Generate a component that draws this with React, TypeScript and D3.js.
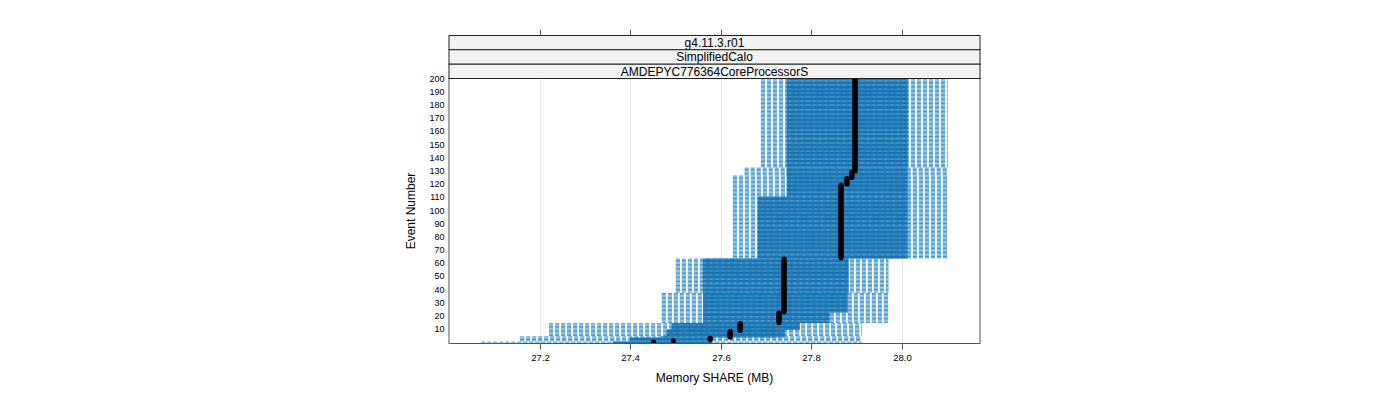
import React from "react";
import * as d3 from "d3";

// ---- data (event blocks with equal summary values) ----
const blockStart = [0, 1, 4, 5, 10, 15, 23, 38, 64, 111, 127, 133];
const blockEnd = [0, 3, 4, 9, 14, 22, 37, 63, 110, 126, 132, 200];
const minMem = [27.071, 27.157, 27.157, 27.221, 27.221, 27.47, 27.47, 27.501, 27.627, 27.627, 27.653, 27.689];
const q1Mem = [27.362, 27.4, 27.47, 27.481, 27.492, 27.561, 27.561, 27.561, 27.682, 27.746, 27.746, 27.746];
const q3Mem = [27.581, 27.581, 27.742, 27.742, 27.775, 27.841, 27.881, 27.883, 28.013, 28.013, 28.013, 28.013];
const maxMem = [27.912, 27.912, 27.912, 27.912, 27.912, 27.971, 27.971, 27.971, 28.102, 28.102, 28.102, 28.102];

const medStart = [0, 1, 2, 4, 9, 15, 23, 64, 120, 125, 130];
const medEnd = [0, 1, 3, 8, 14, 22, 63, 119, 124, 129, 200];
const medMem = [27.452, 27.496, 27.577, 27.621, 27.643, 27.729, 27.74, 27.866, 27.879, 27.89, 27.897];

const xTicks = [27.2, 27.4, 27.6, 27.8, 28.0];
const yTicks = [10, 20, 30, 40, 50, 60, 70, 80, 90, 100, 110, 120, 130, 140, 150, 160, 170, 180, 190, 200];
const stripLabels = ["g4.11.3.r01", "SimplifiedCalo", "AMDEPYC776364CoreProcessorS"];
const xTitle = "Memory SHARE (MB)";
const yTitle = "Event Number";

// ---- layout ----
const panelL = 449;
const panelR = 980;
const panelT = 78.5;
const panelB = 343.5;
const stripTops = [35.5, 49.8, 64.2];
const FONT = "'Liberation Sans', Arial, sans-serif";

const LIGHT = "#4196cf";
const DARK = "#1874b2";

export default function App() {
  const x = d3.scaleLinear().domain([27.0, 28.173]).range([panelL, panelR]);
  const y = d3.scaleLinear().domain([-1, 200]).range([panelB, panelT]);

  type Row = { e: number; lo: number; q1: number; q3: number; hi: number };
  const rows: Row[] = [];
  blockStart.forEach((s, i) => {
    for (let e = s; e <= blockEnd[i]; e++) {
      rows.push({ e, lo: minMem[i], q1: q1Mem[i], q3: q3Mem[i], hi: maxMem[i] });
    }
  });
  const meds: { e: number; m: number }[] = [];
  medStart.forEach((s, i) => {
    for (let e = s; e <= medEnd[i]; e++) meds.push({ e, m: medMem[i] });
  });

  const stripBottoms = [stripTops[1], stripTops[2], panelT];

  return (
    <svg
      width={1400}
      height={400}
      style={{ position: "absolute", left: 0, top: 0, background: "#fff" }}
      fontFamily={FONT}
    >
      <defs>
        <clipPath id="panelClip">
          <rect x={panelL} y={panelT} width={panelR - panelL} height={panelB - panelT} />
        </clipPath>
      </defs>
      <rect x={0} y={0} width={1400} height={400} fill="#fff" />

      {/* grid */}
      {xTicks.map((t) => (
        <line key={"g" + t} x1={Math.round(x(t)) + 0.5} x2={Math.round(x(t)) + 0.5} y1={panelT} y2={panelB} stroke="#e8e8e8" strokeWidth={1} />
      ))}

      <g clipPath="url(#panelClip)">
        {rows.map((r) => (
          <line
            key={"l" + r.e}
            x1={x(r.lo)}
            x2={x(r.hi)}
            y1={y(r.e)}
            y2={y(r.e)}
            stroke={LIGHT}
            strokeWidth={1}
            strokeDasharray="4.2 1.8"
          />
        ))}
        {rows.map((r) => (
          <line key={"d" + r.e} x1={x(r.q1)} x2={x(r.q3)} y1={y(r.e)} y2={y(r.e)} stroke={DARK} strokeWidth={1.4} />
        ))}
        {meds.map((p) => (
          <circle key={"m" + p.e} cx={x(p.m)} cy={y(p.e)} r={2.6} fill="#000" />
        ))}
      </g>

      {/* panel border */}
      <rect x={panelL} y={panelT} width={panelR - panelL} height={panelB - panelT} fill="none" stroke="#555" strokeWidth={1} />

      {/* strips */}
      {stripLabels.map((s, i) => (
        <g key={s}>
          <rect x={panelL} y={stripTops[i]} width={panelR - panelL} height={stripBottoms[i] - stripTops[i]} fill="#f2f2f2" stroke="#222" strokeWidth={1} />
          <text x={(panelL + panelR) / 2} y={(stripTops[i] + stripBottoms[i]) / 2 + 4.3} textAnchor="middle" fontSize={12} fill="#000">
            {s}
          </text>
        </g>
      ))}

      {/* x ticks bottom and top */}
      {xTicks.map((t) => {
        const xx = Math.round(x(t)) + 0.5;
        return (
          <g key={"t" + t}>
            <line x1={xx} x2={xx} y1={panelB} y2={panelB + 6} stroke="#555" />
            <line x1={xx} x2={xx} y1={stripTops[0] - 6} y2={stripTops[0]} stroke="#555" />
            <text x={xx} y={panelB + 17.5} textAnchor="middle" fontSize={9.6} fill="#000">
              {t.toFixed(1)}
            </text>
          </g>
        );
      })}

      {/* y tick labels */}
      {yTicks.map((t) => (
        <text key={"y" + t} x={444.5} y={y(t) + 3.2} textAnchor="end" fontSize={9} fill="#000">
          {t}
        </text>
      ))}

      <text x={(panelL + panelR) / 2} y={382} textAnchor="middle" fontSize={12} fill="#000">
        {xTitle}
      </text>
      <text transform={`translate(415, ${(panelT + panelB) / 2}) rotate(-90)`} textAnchor="middle" fontSize={12} fill="#000">
        {yTitle}
      </text>
    </svg>
  );
}
